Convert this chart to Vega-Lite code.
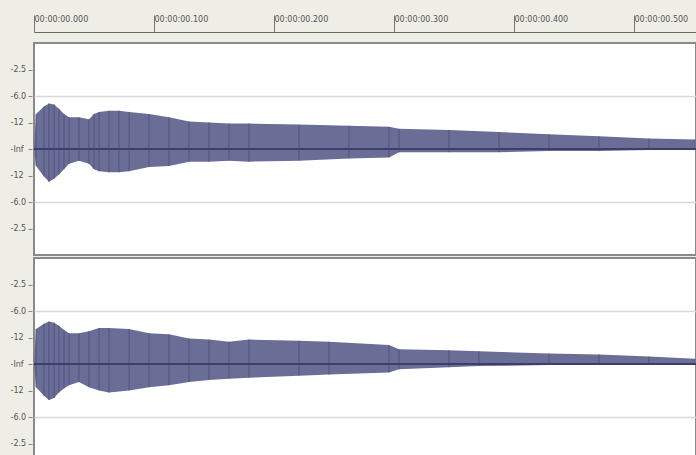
{
  "$schema": "https://vega.github.io/schema/vega-lite/v6.json",
  "background": "#efeee6",
  "padding": {"left": 10, "top": 14, "right": 0, "bottom": 0},
  "config": {
    "view": {"fill": "white", "stroke": "#8a8a8a", "strokeWidth": 2},
    "font": "DejaVu Sans"
  },
  "data": {
    "values": [
      {"ch": "Left", "t": 0.0, "hi": 0.0, "lo": 0.0},
      {"ch": "Left", "t": 0.0017, "hi": 0.33, "lo": -0.16},
      {"ch": "Left", "t": 0.0083, "hi": 0.40, "lo": -0.26},
      {"ch": "Left", "t": 0.0125, "hi": 0.43, "lo": -0.31},
      {"ch": "Left", "t": 0.0167, "hi": 0.42, "lo": -0.28},
      {"ch": "Left", "t": 0.0208, "hi": 0.38, "lo": -0.24},
      {"ch": "Left", "t": 0.025, "hi": 0.33, "lo": -0.19},
      {"ch": "Left", "t": 0.0292, "hi": 0.30, "lo": -0.14},
      {"ch": "Left", "t": 0.0375, "hi": 0.30, "lo": -0.11},
      {"ch": "Left", "t": 0.0458, "hi": 0.28, "lo": -0.14},
      {"ch": "Left", "t": 0.05, "hi": 0.33, "lo": -0.19},
      {"ch": "Left", "t": 0.0542, "hi": 0.35, "lo": -0.21},
      {"ch": "Left", "t": 0.0625, "hi": 0.36, "lo": -0.22},
      {"ch": "Left", "t": 0.0708, "hi": 0.36, "lo": -0.22},
      {"ch": "Left", "t": 0.0792, "hi": 0.35, "lo": -0.21},
      {"ch": "Left", "t": 0.0958, "hi": 0.33, "lo": -0.17},
      {"ch": "Left", "t": 0.1125, "hi": 0.30, "lo": -0.16},
      {"ch": "Left", "t": 0.1292, "hi": 0.26, "lo": -0.12},
      {"ch": "Left", "t": 0.1458, "hi": 0.25, "lo": -0.12},
      {"ch": "Left", "t": 0.1625, "hi": 0.24, "lo": -0.11},
      {"ch": "Left", "t": 0.1792, "hi": 0.24, "lo": -0.12},
      {"ch": "Left", "t": 0.2208, "hi": 0.23, "lo": -0.11},
      {"ch": "Left", "t": 0.2625, "hi": 0.22, "lo": -0.09},
      {"ch": "Left", "t": 0.2958, "hi": 0.21, "lo": -0.08},
      {"ch": "Left", "t": 0.3042, "hi": 0.19, "lo": -0.03},
      {"ch": "Left", "t": 0.3458, "hi": 0.18, "lo": -0.03},
      {"ch": "Left", "t": 0.3875, "hi": 0.16, "lo": -0.03},
      {"ch": "Left", "t": 0.4292, "hi": 0.14, "lo": -0.02},
      {"ch": "Left", "t": 0.4708, "hi": 0.12, "lo": -0.02},
      {"ch": "Left", "t": 0.5125, "hi": 0.10, "lo": -0.01},
      {"ch": "Left", "t": 0.5508, "hi": 0.09, "lo": 0.0},
      {"ch": "Right", "t": 0.0, "hi": 0.0, "lo": 0.0},
      {"ch": "Right", "t": 0.0017, "hi": 0.33, "lo": -0.22},
      {"ch": "Right", "t": 0.0083, "hi": 0.38, "lo": -0.30},
      {"ch": "Right", "t": 0.0125, "hi": 0.40, "lo": -0.34},
      {"ch": "Right", "t": 0.0167, "hi": 0.39, "lo": -0.32},
      {"ch": "Right", "t": 0.0208, "hi": 0.36, "lo": -0.27},
      {"ch": "Right", "t": 0.025, "hi": 0.32, "lo": -0.23},
      {"ch": "Right", "t": 0.0292, "hi": 0.29, "lo": -0.20},
      {"ch": "Right", "t": 0.0375, "hi": 0.29, "lo": -0.17},
      {"ch": "Right", "t": 0.0458, "hi": 0.31, "lo": -0.22},
      {"ch": "Right", "t": 0.0542, "hi": 0.34, "lo": -0.25},
      {"ch": "Right", "t": 0.0625, "hi": 0.34, "lo": -0.27},
      {"ch": "Right", "t": 0.0792, "hi": 0.33, "lo": -0.25},
      {"ch": "Right", "t": 0.0958, "hi": 0.29, "lo": -0.22},
      {"ch": "Right", "t": 0.1125, "hi": 0.28, "lo": -0.20},
      {"ch": "Right", "t": 0.1292, "hi": 0.24, "lo": -0.17},
      {"ch": "Right", "t": 0.1458, "hi": 0.23, "lo": -0.15},
      {"ch": "Right", "t": 0.1625, "hi": 0.21, "lo": -0.14},
      {"ch": "Right", "t": 0.1792, "hi": 0.23, "lo": -0.13},
      {"ch": "Right", "t": 0.2208, "hi": 0.22, "lo": -0.11},
      {"ch": "Right", "t": 0.2458, "hi": 0.21, "lo": -0.10},
      {"ch": "Right", "t": 0.2958, "hi": 0.18, "lo": -0.08},
      {"ch": "Right", "t": 0.3042, "hi": 0.14, "lo": -0.05},
      {"ch": "Right", "t": 0.3458, "hi": 0.13, "lo": -0.03},
      {"ch": "Right", "t": 0.3708, "hi": 0.12, "lo": -0.02},
      {"ch": "Right", "t": 0.4292, "hi": 0.10, "lo": -0.01},
      {"ch": "Right", "t": 0.4708, "hi": 0.09, "lo": -0.01},
      {"ch": "Right", "t": 0.5125, "hi": 0.07, "lo": -0.01},
      {"ch": "Right", "t": 0.5508, "hi": 0.05, "lo": -0.01}
    ]
  },
  "facet": {"row": {"field": "ch", "type": "nominal", "header": null, "title": null}},
  "spacing": 1,
  "spec": {
    "width": 662,
    "height": 212,
    "layer": [
      {
        "encoding": {
          "x": {
            "field": "t", "type": "quantitative",
            "scale": {"domain": [0, 0.5517], "nice": false, "zero": false},
            "axis": {
              "orient": "top", "offset": 10, "title": null,
              "values": [0, 0.1, 0.2, 0.3, 0.4, 0.5],
              "labelExpr": "'00:00:00.' + format(datum.value * 1000, '03d')",
              "tickSize": 17, "tickColor": "#777777", "tickWidth": 1,
              "labelAlign": "left", "labelBaseline": "middle", "labelPadding": -4, "labelDx": 2,
              "labelFontSize": 8, "labelColor": "#555555", "labelOverlap": false, "labelFlush": false,
              "domainColor": "#666666", "domainWidth": 1, "grid": false
            }
          },
          "y": {
            "field": "hi", "type": "quantitative",
            "scale": {"domain": [-1, 1], "nice": false, "zero": false},
            "axis": {
              "orient": "left", "title": null, "domain": false,
              "values": [-0.75, -0.5, -0.25, 0, 0.25, 0.5, 0.75],
              "labelExpr": "datum.value == 0 ? '-Inf' : abs(datum.value) == 0.75 ? '-2.5' : abs(datum.value) == 0.5 ? '-6.0' : '-12'",
              "tickSize": 4, "tickColor": "#888888",
              "labelAlign": "left", "labelBaseline": "middle", "labelPadding": 18,
              "labelFontSize": 8, "labelColor": "#555555", "labelOverlap": false, "labelBound": false,
              "grid": true, "gridColor": "#d8d8d8", "gridWidth": 1.5,
              "gridOpacity": {"condition": {"test": "abs(datum.value) == 0.5", "value": 1}, "value": 0}
            }
          },
          "y2": {"field": "lo"}
        },
        "layer": [
          {"mark": {"type": "area", "color": "#6a6d95", "opacity": 1}},
          {"mark": {"type": "rule", "color": "#4a4d7c", "strokeWidth": 1, "opacity": 0.8}}
        ]
      },
      {
        "mark": {"type": "rule", "color": "#3c3f6c", "strokeWidth": 1.5},
        "encoding": {
          "y": {
            "datum": 0, "type": "quantitative",
            "axis": {
              "orient": "left", "title": null, "domain": false,
              "values": [-0.75, -0.5, -0.25, 0, 0.25, 0.5, 0.75],
              "labelExpr": "datum.value == 0 ? '-Inf' : abs(datum.value) == 0.75 ? '-2.5' : abs(datum.value) == 0.5 ? '-6.0' : '-12'",
              "tickSize": 4, "tickColor": "#888888",
              "labelAlign": "left", "labelBaseline": "middle", "labelPadding": 18,
              "labelFontSize": 8, "labelColor": "#555555", "labelOverlap": false, "labelBound": false,
              "grid": true, "gridColor": "#d8d8d8", "gridWidth": 1.5,
              "gridOpacity": {"condition": {"test": "abs(datum.value) == 0.5", "value": 1}, "value": 0}
            }
          }
        }
      }
    ]
  }
}
